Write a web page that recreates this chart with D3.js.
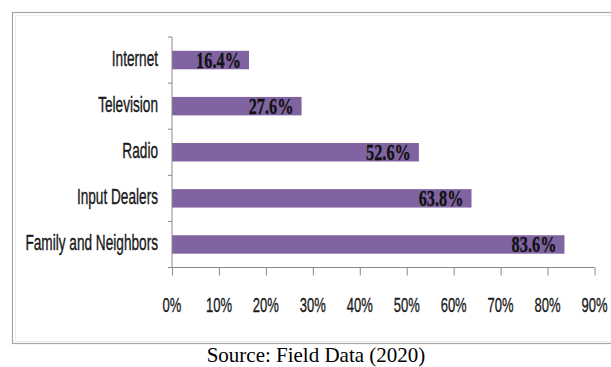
<!DOCTYPE html>
<html>
<head>
<meta charset="utf-8">
<script src="https://cdn.jsdelivr.net/npm/d3@7"></script>
<style>
  html, body { margin: 0; padding: 0; background: #fff; }
  svg { display: block; }
</style>
</head>
<body>
<svg id="chart" width="611" height="367"></svg>
<script>
// Information sources used by respondents (share of respondents)
const categories = ["Internet", "Television", "Radio", "Input Dealers", "Family and Neighbors"];
const shares = [16.4, 27.6, 52.6, 63.8, 83.6];
const tickValues = [0, 10, 20, 30, 40, 50, 60, 70, 80, 90];
const tickLabels = ["0%", "10%", "20%", "30%", "40%", "50%", "60%", "70%", "80%", "90%"];
const sourceNote = "Source: Field Data (2020)";

const svg = d3.select("#chart");

const barColor = "#8064a2";
const axisColor = "#8a8a8a";
const sansFont = "'Liberation Sans', Arial, sans-serif";
const serifFont = "'Liberation Serif', 'Times New Roman', serif";
const narrow = 0.62;   // horizontal squeeze for the condensed label lettering

// Chart frame
svg.append("rect")
  .attr("x", 12.5).attr("y", 12.5)
  .attr("width", 620).attr("height", 331)
  .attr("fill", "none").attr("stroke", "#a6a6a6").attr("stroke-width", 1.2);
svg.append("rect")
  .attr("x", 15.5).attr("y", 15.5)
  .attr("width", 620).attr("height", 326)
  .attr("fill", "none").attr("stroke", "#ececec").attr("stroke-width", 1);

const x = d3.scaleLinear().domain([0, 90]).range([172, 594.5]);
const y = d3.scaleBand().domain(categories).range([37, 267.5])
  .paddingInner(0.6).paddingOuter(0.3);

const rows = categories.map((c, i) => ({ c, v: shares[i] }));

// Bars
svg.append("g").selectAll("rect")
  .data(rows)
  .join("rect")
  .attr("x", x(0))
  .attr("y", d => y(d.c))
  .attr("width", d => x(d.v) - x(0))
  .attr("height", y.bandwidth())
  .attr("fill", barColor);

// Value labels inside the bar ends
svg.append("g").selectAll("g")
  .data(rows)
  .join("g")
  .attr("transform", d => `translate(${x(d.v) - 8},${y(d.c) + y.bandwidth() / 2 + 8})`)
  .append("text")
  .attr("transform", "scale(0.68,1)")
  .attr("text-anchor", "end")
  .attr("font-family", serifFont)
  .attr("font-weight", "bold")
  .attr("font-size", 24)
  .attr("fill", "#111")
  .attr("stroke", "#111").attr("stroke-width", 0.3)
  .text(d => d.v.toFixed(1) + "%");

// Y axis: line with ticks at the band boundaries
const yAxisG = svg.append("g").attr("stroke", axisColor).attr("stroke-width", 1);
yAxisG.append("line")
  .attr("x1", x(0)).attr("x2", x(0))
  .attr("y1", y.range()[0]).attr("y2", y.range()[1]);
const bounds = categories.map(c => y(c) - y.step() * y.paddingInner() / 2).concat([y.range()[1]]);
yAxisG.selectAll("line.tick")
  .data(bounds)
  .join("line").attr("class", "tick")
  .attr("x1", x(0) - 4).attr("x2", x(0))
  .attr("y1", d => d).attr("y2", d => d);

// Category labels
svg.append("g").selectAll("g")
  .data(categories)
  .join("g")
  .attr("transform", c => `translate(158,${y(c) + y.bandwidth() / 2 + 6})`)
  .append("text")
  .attr("transform", `scale(${narrow},1)`)
  .attr("text-anchor", "end")
  .attr("font-family", sansFont)
  .attr("font-size", 22)
  .attr("fill", "#1a1a1a")
  .attr("stroke", "#1a1a1a").attr("stroke-width", 0.4)
  .text(c => c);

// X axis
const axisY = y.range()[1];
const xAxis = d3.axisBottom(x).tickValues(tickValues).tickSize(8).tickFormat(() => "");
const xAxisG = svg.append("g").attr("transform", `translate(0,${axisY})`).call(xAxis);
xAxisG.select(".domain").attr("stroke", axisColor).attr("d", `M${x(0)},0H${x(90)}`);
xAxisG.selectAll(".tick line").attr("stroke", axisColor);

svg.append("g").selectAll("g")
  .data(tickValues)
  .join("g")
  .attr("transform", v => `translate(${x(v)},311.5)`)
  .append("text")
  .attr("transform", `scale(${narrow},1)`)
  .attr("text-anchor", "middle")
  .attr("font-family", sansFont)
  .attr("font-size", 21)
  .attr("fill", "#1a1a1a")
  .attr("stroke", "#1a1a1a").attr("stroke-width", 0.35)
  .text((v, i) => tickLabels[i]);

// Source note
svg.append("text")
  .attr("x", 316).attr("y", 362)
  .attr("text-anchor", "middle")
  .attr("font-family", serifFont)
  .attr("font-size", 21)
  .attr("fill", "#000")
  .text(sourceNote);
</script>
</body>
</html>
